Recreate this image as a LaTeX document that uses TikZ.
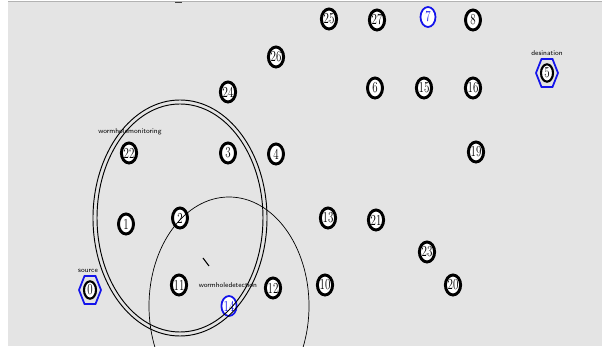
\documentclass[tikz,border=0pt]{standalone}
\usepackage{tikz}
\usetikzlibrary{shapes.geometric}
\definecolor{nambg}{RGB}{228,228,228}
\definecolor{namblue}{RGB}{20,20,235}
\newcommand{\nnum}[1]{\scalebox{0.72}[1]{#1}}

\begin{document}
\begin{tikzpicture}[x=0.03cm,y=-0.03cm,
      nd/.style={ellipse,draw=black,line width=2.5pt,fill=white,minimum width=0.45cm,minimum height=0.6cm,inner sep=0pt,font=\fontsize{13}{13}\selectfont},
      bnd/.style={nd,draw=namblue,line width=1.5pt,text=namblue},
      hnd/.style={nd,minimum width=0.36cm,minimum height=0.52cm,line width=1.8pt},
      lbl/.style={font=\fontsize{6}{6}\sffamily,inner sep=0pt},
      rng/.style={draw=black,line width=0.8pt}]
    \useasboundingbox (0,0) rectangle (602,349);
    \fill[nambg] (8,1) rectangle (602,346.5);
    \draw[black!30,line width=0.8pt] (8,1.5) -- (602,1.5);
    \draw[black!75,line width=1.2pt] (175,2.5) -- (182,2.5);
    % nodes
    \node[nd] (n25) at (329,19) {\nnum{25}};
    \node[nd] (n27) at (377,20) {\nnum{27}};
    \node[bnd] (n7) at (428,17) {\nnum{7}};
    \node[nd] (n8) at (473,20) {\nnum{8}};
    \node[nd] (n26) at (276,57) {\nnum{26}};
    \node[nd] (n6) at (375,88) {\nnum{6}};
    \node[nd] (n15) at (424,88) {\nnum{15}};
    \node[nd] (n16) at (473,88) {\nnum{16}};
    \node[nd] (n24) at (228,92) {\nnum{24}};
    \node[nd] (n22) at (129,153) {\nnum{22}};
    \node[nd] (n3) at (228,153) {\nnum{3}};
    \node[nd] (n4) at (276,154) {\nnum{4}};
    \node[nd] (n19) at (476,152) {\nnum{19}};
    \node[nd] (n1) at (126,224) {\nnum{1}};
    \node[nd] (n2) at (180,218) {\nnum{2}};
    \node[nd] (n13) at (328,218) {\nnum{13}};
    \node[nd] (n21) at (376,220) {\nnum{21}};
    \node[nd] (n23) at (427,252) {\nnum{23}};
    \node[nd] (n11) at (179,285) {\nnum{11}};
    \node[nd] (n12) at (273,288) {\nnum{12}};
    \node[nd] (n10) at (325,285) {\nnum{10}};
    \node[nd] (n20) at (453,285) {\nnum{20}};
    \node[bnd] (n14) at (229,306) {\nnum{14}};
    % source and destination
    \node[hnd] (n0) at (90,290) {\nnum{0}};
    \node[hnd] (n5) at (547,73) {\nnum{5}};
    \foreach \h in {n0,n5}
      \draw[namblue,line width=1.5pt] ([shift={(-11,0)}]\h.center) -- ([shift={(-5.5,-14)}]\h.center)
        -- ([shift={(5.5,-14)}]\h.center) -- ([shift={(11,0)}]\h.center)
        -- ([shift={(5.5,14)}]\h.center) -- ([shift={(-5.5,14)}]\h.center) -- cycle;
    \node[lbl] (src) at (88,271) {source};
    \node[lbl] (dst) at (547,53) {desination};
    % ranges
    \begin{scope}
      \clip (8,1) rectangle (602,346.5);
      \draw[rng] (n2.center) ellipse [x radius=87,y radius=118];
      \draw[rng] (n2.center) ellipse [x radius=83,y radius=114];
      \draw[draw=black,line width=0.6pt] (n14.center) ellipse [x radius=80,y radius=109];
    \end{scope}
    \draw[black,line width=0.9pt] (203,258) -- (209,266);
    \node[lbl] (mon) at (130,132) {wormholemonitoring};
    \node[lbl] (det) at (228,285) {wormholedetection};
  \end{tikzpicture}
\end{document}
